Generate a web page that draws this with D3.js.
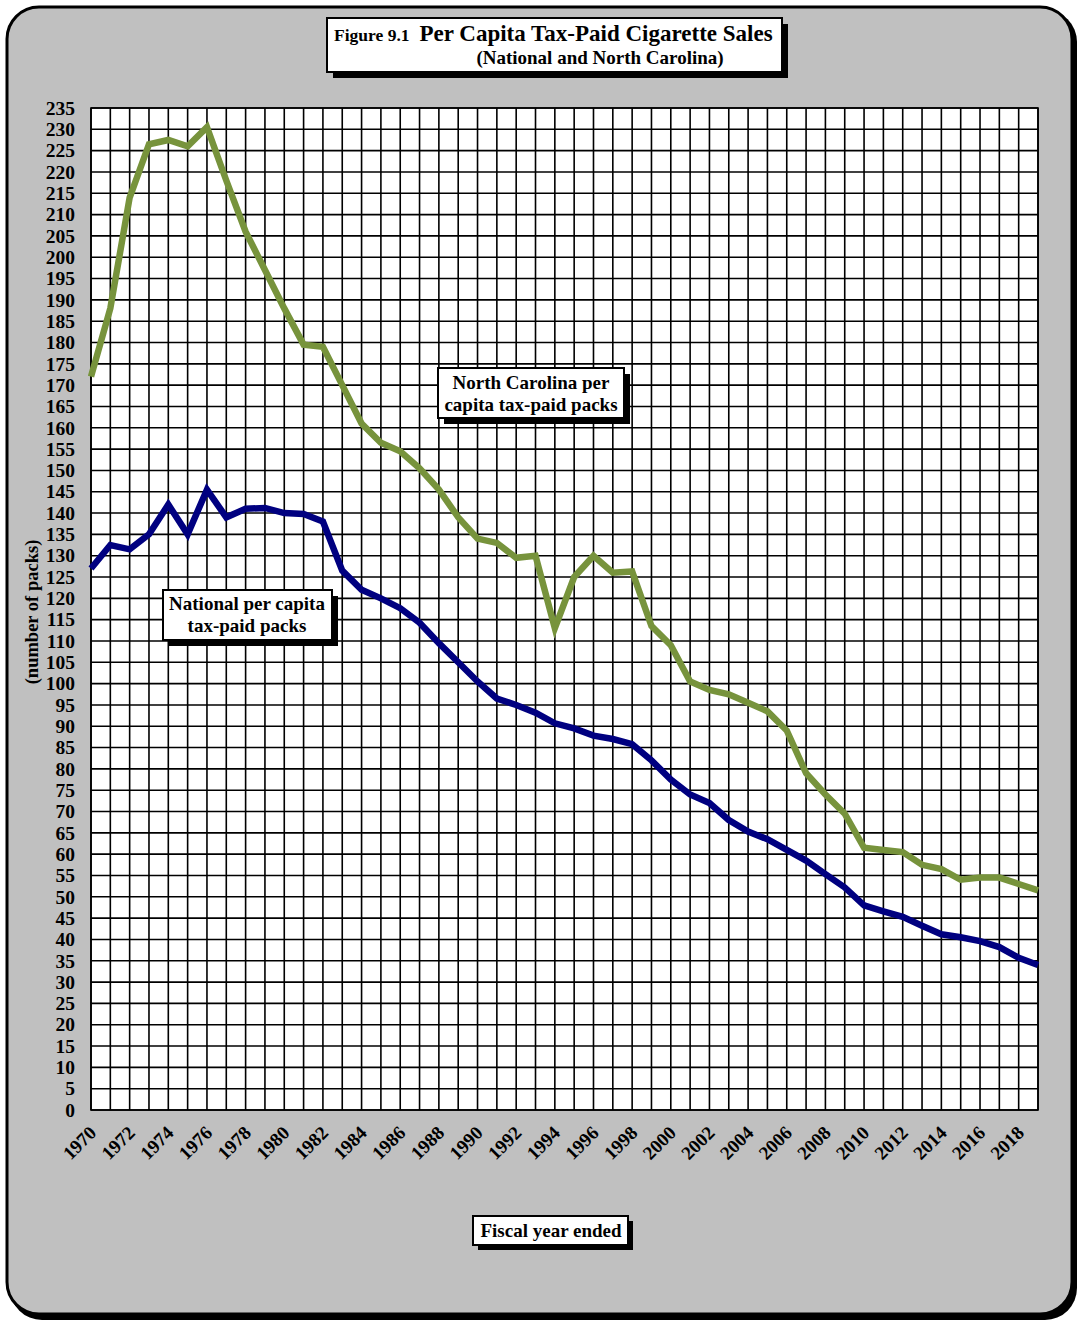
<!DOCTYPE html>
<html>
<head>
<meta charset="utf-8">
<script src="https://cdn.jsdelivr.net/npm/d3@7"></script>
<style>
  body { margin: 0; background: #fff; }
  svg { display: block; }
  text { font-family: "Liberation Serif", "Times New Roman", serif; font-weight: bold; fill: #000; }
</style>
</head>
<body>
<div id="chart"></div>
<script>
// Per capita tax-paid cigarette sales, fiscal years 1970-2019

// Data
// ==========================
var years = d3.range(1970, 2020);

var ncPacks = [172, 188, 214, 226.5, 227.5, 226, 230.5, 218, 206, 197,
    188, 179.5, 179, 170, 161, 156.5, 154.5, 150.5, 145.5, 139,
    134, 133, 129.5, 130, 113, 125, 130, 126, 126.3, 113.5,
    109, 100.5, 98.5, 97.5, 95.5, 93.5, 89, 79, 74, 69.5,
    61.5, 61, 60.5, 57.5, 56.5, 54, 54.5, 54.5, 53, 51.5];

var usPacks = [127, 132.5, 131.5, 135, 142, 135, 145.5, 139, 141, 141.2,
    140, 139.8, 138, 126.5, 122, 120, 117.7, 114.3, 109.5, 105,
    100.5, 96.5, 95, 93.2, 90.7, 89.5, 87.8, 87, 85.8, 82,
    77.5, 74, 72, 68, 65.3, 63.5, 61, 58.5, 55.3, 52.2,
    48, 46.6, 45.3, 43.2, 41.2, 40.5, 39.6, 38.2, 35.7, 34];

var yTicks = d3.range(0, 236, 5);
var xLabelYears = d3.range(1970, 2020, 2);

// Layout
// ==========================
var width = 1078;
var height = 1321;
var plot = { left: 91, right: 1038, top: 108, bottom: 1110 };
var serif = "Liberation Serif, Times New Roman, serif";

var svg = d3.select("#chart")
    .append("svg")
    .attr("width", width)
    .attr("height", height);

// Outer frame with a drop shadow
svg.append("rect")
    .attr("x", 10).attr("y", 10)
    .attr("width", 1067).attr("height", 1310)
    .attr("rx", 32)
    .attr("fill", "#000");
svg.append("rect")
    .attr("x", 7).attr("y", 7)
    .attr("width", 1065).attr("height", 1307)
    .attr("rx", 32)
    .attr("fill", "#c0c0c0")
    .attr("stroke", "#000")
    .attr("stroke-width", 3);

// Scales
var x = d3.scaleLinear().domain([1970, 2019]).range([plot.left, plot.right]);
var y = d3.scaleLinear().domain([0, 235]).range([plot.bottom, plot.top]);

// Plot area
svg.append("rect")
    .attr("x", plot.left).attr("y", plot.top)
    .attr("width", plot.right - plot.left)
    .attr("height", plot.bottom - plot.top)
    .attr("fill", "#fff");

// Grid lines
svg.append("g")
    .selectAll("line")
    .data(years)
    .join("line")
    .attr("x1", d => x(d)).attr("x2", d => x(d))
    .attr("y1", plot.top).attr("y2", plot.bottom)
    .attr("stroke", "#000")
    .attr("stroke-width", 1.6);

svg.append("g")
    .selectAll("line")
    .data(yTicks)
    .join("line")
    .attr("x1", plot.left).attr("x2", plot.right)
    .attr("y1", d => y(d)).attr("y2", d => y(d))
    .attr("stroke", "#000")
    .attr("stroke-width", 1.6);

svg.append("rect")
    .attr("x", plot.left).attr("y", plot.top)
    .attr("width", plot.right - plot.left)
    .attr("height", plot.bottom - plot.top)
    .attr("fill", "none")
    .attr("stroke", "#000")
    .attr("stroke-width", 1.6);

// Y axis labels
var yAxis = d3.axisLeft(y).tickValues(yTicks).tickSize(0).tickPadding(16);
var gy = svg.append("g")
    .attr("transform", "translate(" + plot.left + ",0)")
    .call(yAxis);
gy.select(".domain").remove();
gy.selectAll("text")
    .attr("font-family", serif)
    .attr("font-weight", "bold")
    .attr("font-size", 19.5)
    .attr("fill", "#000");

// X axis labels (every other year, rotated)
var xAxis = d3.axisBottom(x).tickValues(xLabelYears).tickSize(0).tickFormat(d3.format("d"));
var gx = svg.append("g")
    .attr("transform", "translate(0," + plot.bottom + ")")
    .call(xAxis);
gx.select(".domain").remove();
gx.selectAll("text")
    .attr("font-family", serif)
    .attr("font-weight", "bold")
    .attr("font-size", 19)
    .attr("fill", "#000")
    .attr("text-anchor", "end")
    .attr("dy", 0)
    .attr("y", 0)
    .attr("transform", "translate(6,24) rotate(-45)");

// Axis title (y)
svg.append("text")
    .attr("transform", "translate(38,612) rotate(-90)")
    .attr("text-anchor", "middle")
    .attr("font-size", 18.5)
    .text("(number of packs)");

// Lines
var line = d3.line()
    .x((d, i) => x(years[i]))
    .y(d => y(d));

svg.append("path")
    .datum(ncPacks)
    .attr("d", line)
    .attr("fill", "none")
    .attr("stroke", "#77933c")
    .attr("stroke-width", 6.5)
    .attr("stroke-linejoin", "miter");

svg.append("path")
    .datum(usPacks)
    .attr("d", line)
    .attr("fill", "none")
    .attr("stroke", "#000080")
    .attr("stroke-width", 6.5)
    .attr("stroke-linejoin", "miter");

// Boxed labels with shadow
function box(x0, y0, w, h, off) {
    svg.append("rect")
        .attr("x", x0 + off).attr("y", y0 + off)
        .attr("width", w).attr("height", h)
        .attr("fill", "#000");
    svg.append("rect")
        .attr("x", x0).attr("y", y0)
        .attr("width", w).attr("height", h)
        .attr("fill", "#fff")
        .attr("stroke", "#000")
        .attr("stroke-width", 2);
}

// Title
box(327, 18, 455, 54, 6);
var t = svg.append("text").attr("x", 334).attr("y", 41);
t.append("tspan").attr("font-size", 17.5).text("Figure 9.1");
t.append("tspan").attr("font-size", 23).attr("dx", 10).text("Per Capita Tax-Paid Cigarette Sales");
svg.append("text")
    .attr("x", 600).attr("y", 64)
    .attr("text-anchor", "middle")
    .attr("font-size", 19)
    .text("(National and North Carolina)");

// NC label
box(438, 368, 186, 50, 6);
svg.append("text").attr("x", 531).attr("y", 389).attr("text-anchor", "middle")
    .attr("font-size", 19).text("North Carolina per");
svg.append("text").attr("x", 531).attr("y", 411).attr("text-anchor", "middle")
    .attr("font-size", 19).text("capita tax-paid packs");

// National label
box(163, 590, 169, 50, 6);
svg.append("text").attr("x", 247).attr("y", 610).attr("text-anchor", "middle")
    .attr("font-size", 19).text("National per capita");
svg.append("text").attr("x", 247).attr("y", 632).attr("text-anchor", "middle")
    .attr("font-size", 19).text("tax-paid packs");

// X axis title
box(473, 1216, 155, 29, 5);
svg.append("text").attr("x", 551).attr("y", 1237).attr("text-anchor", "middle")
    .attr("font-size", 19).text("Fiscal year ended");
</script>
</body>
</html>
